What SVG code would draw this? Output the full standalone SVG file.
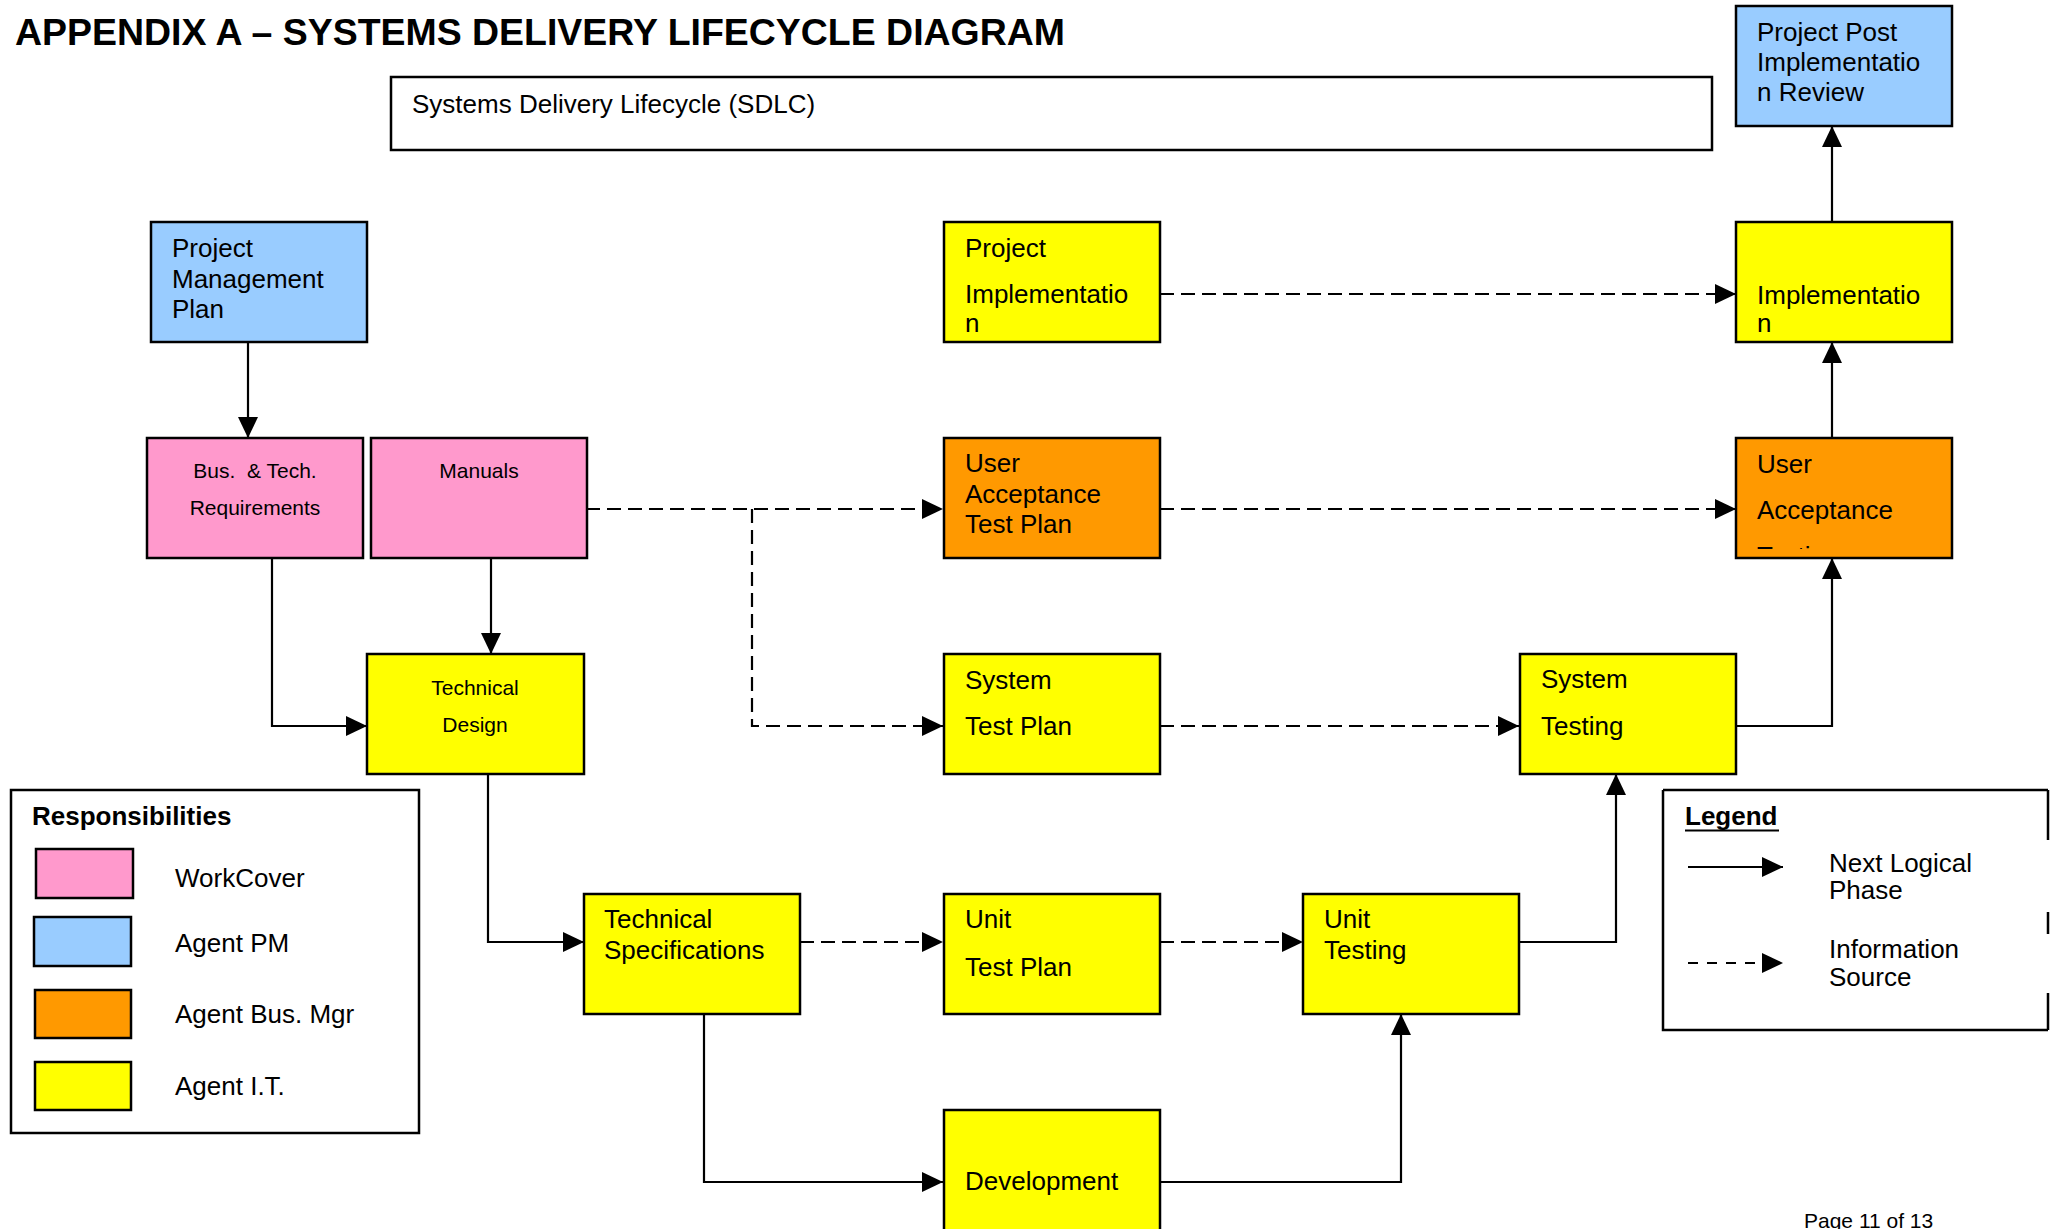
<svg xmlns="http://www.w3.org/2000/svg" width="2057" height="1229" viewBox="0 0 2057 1229">
<style>
text{font-family:"Liberation Sans",Arial,sans-serif;fill:#000}
.t{font-size:26px}
.s{font-size:21px}
.c{text-anchor:middle}
.b{font-weight:bold}
.box{stroke:#000;stroke-width:2.5}
.pink{fill:#FF99CC}.blue{fill:#99CCFF}.orange{fill:#FF9900}.yellow{fill:#FFFF00}
.ln{fill:none;stroke:#000;stroke-width:2.2}
.dash{stroke-dasharray:14 7}
</style>
<defs>
<marker id="ah" markerUnits="userSpaceOnUse" markerWidth="21" markerHeight="20" refX="21" refY="10" orient="auto">
<path d="M0,0 L21,10 L0,20 z" fill="#000"/>
</marker>
<clipPath id="clipUA"><rect x="1736" y="438" width="216" height="111"/></clipPath>
<clipPath id="clipPhase"><rect x="1800" y="840" width="240" height="61"/></clipPath>
<clipPath id="clipSource"><rect x="1800" y="930" width="240" height="58"/></clipPath>
</defs>
<rect width="2057" height="1229" fill="#fff"/>

<text x="15" y="45" font-size="37" class="b" textLength="1050" lengthAdjust="spacingAndGlyphs">APPENDIX A – SYSTEMS DELIVERY LIFECYCLE DIAGRAM</text>

<g id="sdlc-title">
<rect x="391" y="77" width="1321" height="73" fill="#fff" stroke="#000" stroke-width="2.5"/>
<text x="412" y="113" class="t">Systems Delivery Lifecycle (SDLC)</text>
</g>

<g id="connectors">
<path class="ln" d="M248,342 V438" marker-end="url(#ah)"/>
<path class="ln" d="M272,558 V726 H367" marker-end="url(#ah)"/>
<path class="ln" d="M491,558 V654" marker-end="url(#ah)"/>
<path class="ln dash" d="M586,509 H943" marker-end="url(#ah)"/>
<path class="ln dash" d="M752,509 V726 H943" marker-end="url(#ah)"/>
<path class="ln" d="M488,774 V942 H584" marker-end="url(#ah)"/>
<path class="ln dash" d="M800,942 H943" marker-end="url(#ah)"/>
<path class="ln dash" d="M1160,942 H1303" marker-end="url(#ah)"/>
<path class="ln" d="M704,1014 V1182 H943" marker-end="url(#ah)"/>
<path class="ln" d="M1160,1182 H1401 V1014" marker-end="url(#ah)"/>
<path class="ln" d="M1519,942 H1616 V774" marker-end="url(#ah)"/>
<path class="ln dash" d="M1160,726 H1519" marker-end="url(#ah)"/>
<path class="ln" d="M1736,726 H1832 V558" marker-end="url(#ah)"/>
<path class="ln dash" d="M1160,509 H1736" marker-end="url(#ah)"/>
<path class="ln" d="M1832,438 V342" marker-end="url(#ah)"/>
<path class="ln dash" d="M1160,294 H1736" marker-end="url(#ah)"/>
<path class="ln" d="M1832,222 V126" marker-end="url(#ah)"/>
</g>

<g id="project-management-plan">
<rect class="box blue" x="151" y="222" width="216" height="120"/>
<text class="t" x="172" y="257">Project</text>
<text class="t" x="172" y="288">Management</text>
<text class="t" x="172" y="318">Plan</text>
</g>

<g id="bus-tech-requirements">
<rect class="box pink" x="147" y="438" width="216" height="120"/>
<text class="s c" x="255" y="478" style="white-space:pre">Bus.  &amp; Tech.</text>
<text class="s c" x="255" y="515">Requirements</text>
</g>

<g id="manuals">
<rect class="box pink" x="371" y="438" width="216" height="120"/>
<text class="s c" x="479" y="478">Manuals</text>
</g>

<g id="technical-design">
<rect class="box yellow" x="367" y="654" width="217" height="120"/>
<text class="s c" x="475" y="695">Technical</text>
<text class="s c" x="475" y="732">Design</text>
</g>

<g id="technical-specifications">
<rect class="box yellow" x="584" y="894" width="216" height="120"/>
<text class="t" x="604" y="928">Technical</text>
<text class="t" x="604" y="959">Specifications</text>
</g>

<g id="project-implementation">
<rect class="box yellow" x="944" y="222" width="216" height="120"/>
<text class="t" x="965" y="257">Project</text>
<text class="t" x="965" y="303">Implementatio</text>
<text class="t" x="965" y="332">n</text>
</g>

<g id="user-acceptance-test-plan">
<rect class="box orange" x="944" y="438" width="216" height="120"/>
<text class="t" x="965" y="472">User</text>
<text class="t" x="965" y="503">Acceptance</text>
<text class="t" x="965" y="533">Test Plan</text>
</g>

<g id="system-test-plan">
<rect class="box yellow" x="944" y="654" width="216" height="120"/>
<text class="t" x="965" y="689">System</text>
<text class="t" x="965" y="735">Test Plan</text>
</g>

<g id="unit-test-plan">
<rect class="box yellow" x="944" y="894" width="216" height="120"/>
<text class="t" x="965" y="928">Unit</text>
<text class="t" x="965" y="976">Test Plan</text>
</g>

<g id="development">
<rect class="box yellow" x="944" y="1110" width="216" height="140"/>
<text class="t" x="965" y="1190">Development</text>
</g>

<g id="unit-testing">
<rect class="box yellow" x="1303" y="894" width="216" height="120"/>
<text class="t" x="1324" y="928">Unit</text>
<text class="t" x="1324" y="959">Testing</text>
</g>

<g id="system-testing">
<rect class="box yellow" x="1520" y="654" width="216" height="120"/>
<text class="t" x="1541" y="688">System</text>
<text class="t" x="1541" y="735">Testing</text>
</g>

<g id="user-acceptance">
<rect class="box orange" x="1736" y="438" width="216" height="120"/>
<text class="t" x="1757" y="473">User</text>
<text class="t" x="1757" y="519">Acceptance</text>
<text class="t" x="1757" y="565" clip-path="url(#clipUA)">Testing</text>
</g>

<g id="implementation">
<rect class="box yellow" x="1736" y="222" width="216" height="120"/>
<text class="t" x="1757" y="304">Implementatio</text>
<text class="t" x="1757" y="332">n</text>
</g>

<g id="project-post-implementation-review">
<rect class="box blue" x="1736" y="6" width="216" height="120"/>
<text class="t" x="1757" y="41">Project Post</text>
<text class="t" x="1757" y="71">Implementatio</text>
<text class="t" x="1757" y="101">n Review</text>
</g>

<g id="responsibilities">
<rect x="11" y="790" width="408" height="343" fill="#fff" stroke="#000" stroke-width="2.5"/>
<text class="t b" x="32" y="825">Responsibilities</text>
<rect class="box pink" x="36" y="849" width="97" height="49"/>
<text class="t" x="175" y="887">WorkCover</text>
<rect class="box blue" x="34" y="917" width="97" height="49"/>
<text class="t" x="175" y="952">Agent PM</text>
<rect class="box orange" x="35" y="990" width="96" height="48"/>
<text class="t" x="175" y="1023">Agent Bus. Mgr</text>
<rect class="box yellow" x="35" y="1062" width="96" height="48"/>
<text class="t" x="175" y="1095">Agent I.T.</text>
</g>

<g id="legend">
<path d="M1663,790 H2048 M1663,790 V1030 H2048 M2048,790 V840 M2048,912 V934 M2048,993 V1030" fill="none" stroke="#000" stroke-width="2.5"/>
<text class="t b" x="1685" y="825">Legend</text>
<line x1="1685" y1="830.5" x2="1779" y2="830.5" stroke="#000" stroke-width="2.2"/>
<path class="ln" d="M1688,867 H1783" marker-end="url(#ah)"/>
<path class="ln" d="M1688,963 H1783" stroke-dasharray="10 9" marker-end="url(#ah)"/>
<text class="t" x="1829" y="872">Next Logical</text>
<text class="t" x="1829" y="899" clip-path="url(#clipPhase)">Phase</text>
<text class="t" x="1829" y="958">Information</text>
<text class="t" x="1829" y="986" clip-path="url(#clipSource)">Source</text>
</g>

<text x="1804" y="1228" font-size="21">Page 11 of 13</text>
</svg>
